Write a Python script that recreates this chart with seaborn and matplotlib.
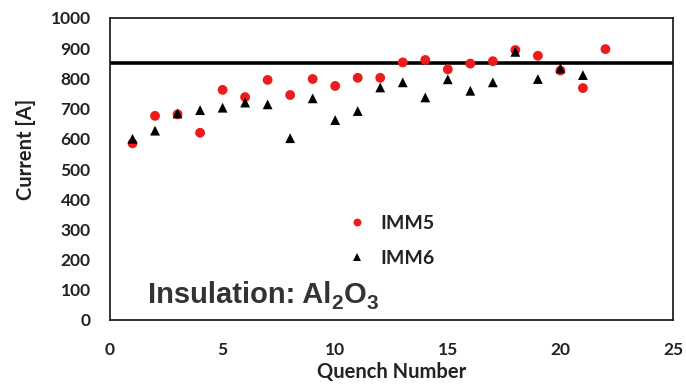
import matplotlib
matplotlib.use("Agg")
import matplotlib.pyplot as plt
import matplotlib.transforms as mtransforms
import seaborn as sns
import pandas as pd

# Data
quench_imm5 = list(range(1, 23))
current_imm5 = [585, 676, 681, 620, 762, 738, 795, 745, 798, 775, 802, 802,
                853, 861, 830, 849, 857, 894, 875, 826, 768, 897]
quench_imm6 = list(range(1, 22))
current_imm6 = [600, 627, 684, 695, 703, 720, 714, 602, 734, 662, 692, 770,
                787, 737, 797, 759, 787, 888, 798, 833, 811]
series_names = ["IMM5", "IMM6"]
threshold = 850
x_ticks = [0, 5, 10, 15, 20, 25]
y_ticks = [0, 100, 200, 300, 400, 500, 600, 700, 800, 900, 1000]

df = pd.concat([
    pd.DataFrame({"Quench": quench_imm5, "Current": current_imm5, "Series": series_names[0]}),
    pd.DataFrame({"Quench": quench_imm6, "Current": current_imm6, "Series": series_names[1]}),
], ignore_index=True)

sns.set_theme(style="white")
plt.rcParams["font.family"] = ["Lato", "DejaVu Sans"]

fig = plt.figure(figsize=(6.86, 3.85), dpi=100)
ax = fig.add_axes([110/686, 1 - 320/385, 563/686, 302/385])

sns.scatterplot(data=df, x="Quench", y="Current", hue="Series", style="Series",
                palette={"IMM5": "#ec1c1c", "IMM6": "#000000"},
                markers={"IMM5": "o", "IMM6": "^"},
                s=50, linewidth=0, ax=ax, legend=True, zorder=3)

ax.axhline(threshold, color="black", lw=2.6, zorder=2)

ax.set_xlim(0, 25)
ax.set_ylim(0, 1000)
ax.set_xticks(x_ticks)
ax.set_yticks(y_ticks)
ax.tick_params(axis="both", length=0, labelsize=12.5, colors="#222222")
ax.tick_params(axis="x", pad=16)
ax.tick_params(axis="y", pad=14)
for lab in ax.get_xticklabels() + ax.get_yticklabels():
    lab.set_fontweight("bold")
ax.set_xlabel("Quench Number", fontsize=14.5, fontweight="bold", color="#222222", labelpad=3)
ax.set_ylabel("Current [A]", fontsize=14.5, fontweight="bold", color="#222222")
ax.yaxis.set_label_coords(-0.132, 0.566)
for sp in ax.spines.values():
    sp.set_visible(True)
    sp.set_color("#111111")
    sp.set_linewidth(1.2)
ax.grid(False)

handles, labels = ax.get_legend_handles_labels()
leg = ax.legend(handles, labels, loc="center left", bbox_to_anchor=(0.404, 0.262),
                frameon=False, borderpad=0, handlelength=1, handletextpad=0.7,
                labelspacing=0.95, markerscale=0.8,
                prop={"family": "Lato", "weight": "bold", "size": 14})
for t in leg.get_texts():
    t.set_color("#222222")

# "Insulation: Al2O3" with real subscripts built from text pieces
pieces = [("Insulation: Al", 21, 0), ("2", 15, -6), ("O", 21, 0), ("3", 15, -6)]
fig.canvas.draw()
renderer = fig.canvas.get_renderer()
dx = 0.0
for txt, size, dy in pieces:
    trans = ax.transData + mtransforms.ScaledTranslation(dx / 100, dy / 100, fig.dpi_scale_trans)
    t = ax.text(1.7, 55, txt, fontsize=size, fontweight="bold", family="Liberation Sans",
                color="#333333", ha="left", va="baseline", transform=trans)
    dx += t.get_window_extent(renderer).width

fig.savefig("out.png", dpi=100)
